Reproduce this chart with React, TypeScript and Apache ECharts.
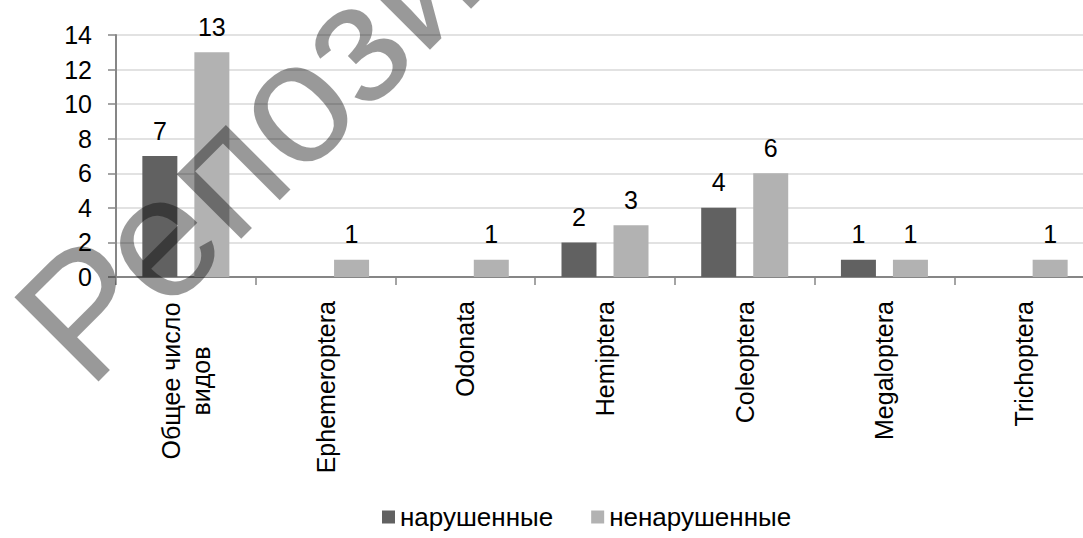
import React, { useEffect, useRef } from "react";
import * as echarts from "echarts";

// Insect orders found on the two site types
const categories = [
  "Общее число\nвидов",
  "Ephemeroptera",
  "Odonata",
  "Hemiptera",
  "Coleoptera",
  "Megaloptera",
  "Trichoptera",
];
const seriesNames = ["нарушенные", "ненарушенные"];
// Blank cells (no species recorded) are null so no bar or label is drawn
const disturbed: (number | null)[] = [7, null, null, 2, 4, 1, null];
const undisturbed: (number | null)[] = [13, 1, 1, 3, 6, 1, 1];
const yMin = 0;
const yMax = 14;
const yStep = 2;
const watermarkText = "Репозиторий";

const FONT = '"Liberation Sans", Arial, sans-serif';
const DARK = "#616161";
const LIGHT = "#b2b2b2";
const AXIS = "#868686";
const GRID = "#d9d9d9";

export default function App() {
  const ref = useRef<HTMLDivElement>(null);

  useEffect(() => {
    if (!ref.current) return;
    const chart = echarts.init(ref.current, undefined, { renderer: "svg" });

    const labelStyle = {
      show: true,
      position: "top" as const,
      distance: 13,
      fontSize: 25,
      fontFamily: FONT,
      color: "#000",
    };

    chart.setOption({
      animation: false,
      backgroundColor: "#fff",
      textStyle: { fontFamily: FONT },
      grid: {
        left: 116,
        right: 26,
        top: 35,
        bottom: 261,
        containLabel: false,
        outerBoundsMode: "none",
      },
      legend: {
        data: seriesNames,
        left: 382,
        top: 504,
        icon: "rect",
        itemWidth: 13,
        itemHeight: 13,
        itemGap: 38,
        padding: 0,
        textStyle: { fontSize: 26, fontFamily: FONT, color: "#000" },
      },
      xAxis: {
        type: "category",
        data: categories,
        axisLine: { show: true, lineStyle: { color: AXIS, width: 2 } },
        axisTick: {
          show: true,
          interval: 0,
          length: 8,
          lineStyle: { color: AXIS, width: 1.5 },
        },
        axisLabel: {
          interval: 0,
          rotate: 90,
          margin: 24,
          fontSize: 25,
          fontFamily: FONT,
          color: "#000",
          formatter: (v: string) =>
            v.includes("\n")
              ? v
                  .split("\n")
                  .map((s) => `{c|${s}}`)
                  .join("\n")
              : v,
          rich: {
            c: {
              width: 160,
              align: "center",
              fontSize: 25,
              lineHeight: 30,
              fontFamily: FONT,
              color: "#000",
            },
          },
        },
        splitLine: { show: false },
      },
      yAxis: {
        type: "value",
        min: yMin,
        max: yMax,
        interval: yStep,
        axisLine: { show: true, lineStyle: { color: AXIS, width: 2 } },
        axisTick: { show: true, length: 8, lineStyle: { color: AXIS, width: 1.5 } },
        axisLabel: {
          margin: 24,
          fontSize: 25,
          fontFamily: FONT,
          color: "#000",
        },
        splitLine: { show: true, lineStyle: { color: GRID, width: 1.5 } },
      },
      series: [
        {
          name: seriesNames[0],
          type: "bar",
          data: disturbed,
          barWidth: 35,
          barGap: "48.6%",
          itemStyle: { color: DARK },
          label: labelStyle,
        },
        {
          name: seriesNames[1],
          type: "bar",
          data: undisturbed,
          barWidth: 35,
          barGap: "48.6%",
          itemStyle: { color: LIGHT },
          label: labelStyle,
        },
      ],
      graphic: [
        {
          // Diagonal watermark laid over the plot
          type: "text",
          x: 46,
          y: 349,
          rotation: Math.PI / 4,
          z: 100,
          silent: true,
          style: {
            text: watermarkText,
            x: 0,
            y: 0,
            font: `173px ${FONT}`,
            fill: "rgba(0,0,0,0.4)",
            align: "left",
            verticalAlign: "middle",
            textAlign: "left",
            textVerticalAlign: "middle",
          },
        },
      ],
    });

    return () => chart.dispose();
  }, []);

  return (
    <div
      style={{
        position: "fixed",
        left: 0,
        top: 0,
        width: 1083,
        height: 538,
        overflow: "hidden",
        background: "#fff",
      }}
    >
      <div ref={ref} style={{ width: 1120, height: 538 }} />
    </div>
  );
}
